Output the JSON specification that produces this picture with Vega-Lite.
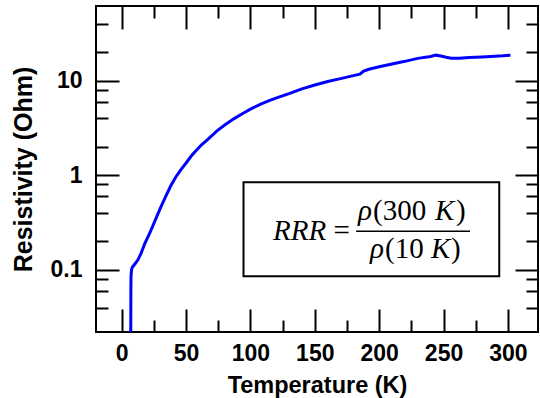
{
  "$schema": "https://vega.github.io/schema/vega-lite/v6.json",
  "width": 442,
  "height": 326,
  "autosize": "none",
  "padding": {"left": 96, "top": 6, "right": 2, "bottom": 66},
  "background": "white",
  "config": {
    "view": {"stroke": "black", "strokeWidth": 2},
    "axis": {"grid": false, "domain": false, "tickColor": "black", "tickWidth": 2, "labelFont": "Liberation Sans", "labelFontWeight": "bold", "labelColor": "black", "titleFont": "Liberation Sans", "titleFontWeight": "bold", "titleColor": "black", "labelOverlap": false, "labelFlush": false, "labelBound": false}
  },
  "datasets": {
    "curve": [
      {"T": 7.0, "R": 0.02}, {"T": 7.1, "R": 0.06}, {"T": 7.2, "R": 0.085}, {"T": 7.6, "R": 0.1},
      {"T": 8.2, "R": 0.107}, {"T": 9.0, "R": 0.11}, {"T": 10.5, "R": 0.117}, {"T": 12.6, "R": 0.128},
      {"T": 15, "R": 0.15}, {"T": 17.9, "R": 0.19}, {"T": 22, "R": 0.25}, {"T": 26, "R": 0.335},
      {"T": 30, "R": 0.45}, {"T": 34, "R": 0.59}, {"T": 38, "R": 0.77}, {"T": 42, "R": 0.96},
      {"T": 46, "R": 1.15}, {"T": 50, "R": 1.35}, {"T": 54, "R": 1.6}, {"T": 58, "R": 1.84},
      {"T": 62, "R": 2.1}, {"T": 66, "R": 2.34}, {"T": 70, "R": 2.62}, {"T": 74, "R": 2.95},
      {"T": 80, "R": 3.4}, {"T": 87, "R": 3.95}, {"T": 94, "R": 4.5}, {"T": 100, "R": 5.0},
      {"T": 108, "R": 5.65}, {"T": 115, "R": 6.2}, {"T": 122, "R": 6.7}, {"T": 130, "R": 7.3},
      {"T": 140, "R": 8.2}, {"T": 150, "R": 9.0}, {"T": 160, "R": 9.8}, {"T": 170, "R": 10.5},
      {"T": 180, "R": 11.3}, {"T": 185, "R": 11.7}, {"T": 188, "R": 12.6}, {"T": 192, "R": 13.2},
      {"T": 200, "R": 14.0}, {"T": 210, "R": 15.0}, {"T": 220, "R": 16.0}, {"T": 230, "R": 17.2},
      {"T": 240, "R": 18.0}, {"T": 244, "R": 18.6}, {"T": 248, "R": 18.2}, {"T": 252, "R": 17.7},
      {"T": 256, "R": 17.3}, {"T": 262, "R": 17.3}, {"T": 270, "R": 17.6}, {"T": 280, "R": 17.8},
      {"T": 290, "R": 18.1}, {"T": 296, "R": 18.3}, {"T": 302, "R": 18.6}
    ]
  },
  "layer": [
    {
      "data": {"name": "curve"},
      "mark": {"type": "line", "color": "#0000ff", "strokeWidth": 3, "clip": true},
      "encoding": {
        "x": {"field": "T", "type": "quantitative", "scale": {"domain": [-20, 323.4], "nice": false, "zero": false},
          "axis": {"orient": "bottom", "title": "Temperature (K)", "values": [0, 25, 50, 75, 100, 125, 150, 175, 200, 225, 250, 275, 300],
            "tickSize": {"condition": {"test": "datum.value % 50 === 0", "value": -23}, "value": -12},
            "labelExpr": "datum.value % 50 === 0 ? datum.label : ''", "labelFontSize": 23, "labelBaseline": "alphabetic", "labelPadding": 51,
            "titleFontSize": 23.5, "titleBaseline": "alphabetic", "titleY": 60}},
        "y": {"field": "R", "type": "quantitative", "scale": {"type": "log", "domain": [0.0221, 61.5], "nice": false, "zero": false},
          "axis": {"orient": "left", "title": "Resistivity (Ohm)", "values": [0.04, 0.06, 0.08, 0.1, 0.2, 0.4, 0.6, 0.8, 1, 2, 4, 6, 8, 10, 20, 40],
            "tickSize": {"condition": {"test": "datum.value == 0.1 || datum.value == 1 || datum.value == 10", "value": -23}, "value": -12},
            "labelExpr": "datum.value == 0.1 ? '0.1' : datum.value == 1 ? '1' : datum.value == 10 ? '10' : ''", "labelFontSize": 23, "labelAlign": "right", "labelBaseline": "middle", "labelPadding": 37,
            "titleFontSize": 25, "titleBaseline": "alphabetic", "titleX": -64.5}}
      }
    },
    {
      "data": {"name": "curve"},
      "mark": {"type": "line", "strokeOpacity": 0},
      "encoding": {
        "x": {"field": "T", "type": "quantitative",
          "axis": {"orient": "top", "title": null, "labels": false, "values": [0, 25, 50, 75, 100, 125, 150, 175, 200, 225, 250, 275, 300],
            "tickSize": {"condition": {"test": "datum.value % 50 === 0", "value": -23}, "value": -12}}},
        "y": {"field": "R", "type": "quantitative",
          "axis": {"orient": "right", "title": null, "labels": false, "values": [0.04, 0.06, 0.08, 0.1, 0.2, 0.4, 0.6, 0.8, 1, 2, 4, 6, 8, 10, 20, 40],
            "tickSize": {"condition": {"test": "datum.value == 0.1 || datum.value == 1 || datum.value == 10", "value": -23}, "value": -12}}}
      }
    },
    {
      "data": {"values": [{"T1": 94.6, "T2": 293.3, "R1": 0.0857, "R2": 0.843}]},
      "mark": {"type": "rect", "fill": "white", "stroke": "black", "strokeWidth": 2},
      "encoding": {
        "x": {"field": "T1", "type": "quantitative", "axis": null},
        "x2": {"field": "T2"},
        "y": {"field": "R1", "type": "quantitative", "axis": null},
        "y2": {"field": "R2"}
      }
    },
    {
      "data": {"values": [{"T1": 182.1, "T2": 270.6, "R": 0.2561}]},
      "mark": {"type": "rule", "stroke": "black", "strokeWidth": 1.5},
      "encoding": {
        "x": {"field": "T1", "type": "quantitative", "axis": null},
        "x2": {"field": "T2"},
        "y": {"field": "R", "type": "quantitative", "axis": null}
      }
    },
    {
      "data": {"values": [
        {"s": "RRR", "T": 117.6, "R": 0.2057},
        {"s": "ρ", "T": 183.6, "R": 0.3346},
        {"s": "K", "T": 243.4, "R": 0.3346},
        {"s": "ρ", "T": 192.9, "R": 0.1328},
        {"s": "K", "T": 240.3, "R": 0.1328}
      ]},
      "mark": {"type": "text", "font": "Liberation Serif", "fontStyle": "italic", "fontSize": 29, "align": "left", "baseline": "alphabetic", "color": "black"},
      "encoding": {
        "x": {"field": "T", "type": "quantitative", "axis": null},
        "y": {"field": "R", "type": "quantitative", "axis": null},
        "text": {"field": "s"}
      }
    },
    {
      "data": {"values": [
        {"s": "=", "T": 164.5, "R": 0.2057},
        {"s": "(300", "T": 195.3, "R": 0.3346},
        {"s": ")", "T": 259.7, "R": 0.3346},
        {"s": "(10", "T": 204.6, "R": 0.1328},
        {"s": ")", "T": 255.8, "R": 0.1328}
      ]},
      "mark": {"type": "text", "font": "Liberation Serif", "fontSize": 29, "align": "left", "baseline": "alphabetic", "color": "black"},
      "encoding": {
        "x": {"field": "T", "type": "quantitative", "axis": null},
        "y": {"field": "R", "type": "quantitative", "axis": null},
        "text": {"field": "s"}
      }
    }
  ],
  "resolve": {"axis": {"x": "independent", "y": "independent"}}
}
